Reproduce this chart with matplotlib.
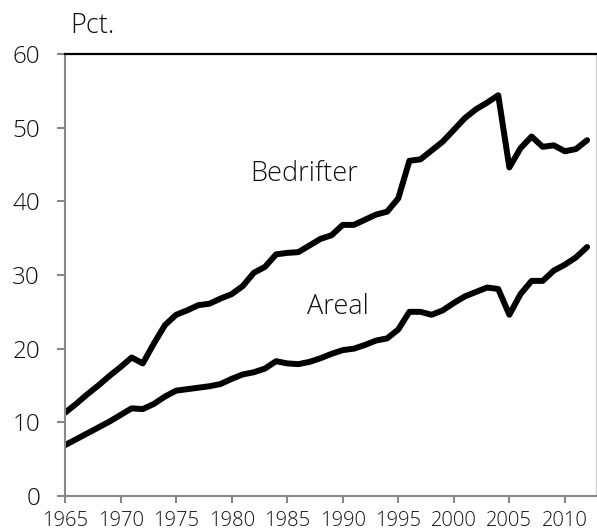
import matplotlib

matplotlib.use("agg")

import matplotlib.pyplot as plt

years = list(range(1965, 2013))

bedrifter = [11.3, 12.5, 13.8, 15.0, 16.3, 17.5, 18.8, 18.0, 20.7, 23.2,
             24.6, 25.2, 25.9, 26.1, 26.8, 27.4, 28.5, 30.3, 31.1, 32.8,
             33.0, 33.1, 34.0, 34.9, 35.4, 36.8, 36.8, 37.5, 38.2, 38.6,
             40.4, 45.5, 45.7, 46.9, 48.1, 49.7, 51.3, 52.5, 53.4, 54.4,
             44.6, 47.2, 48.8, 47.4, 47.6, 46.8, 47.1, 48.3]

areal = [6.9, 7.7, 8.5, 9.3, 10.1, 11.0, 11.9, 11.8, 12.5, 13.5,
         14.3, 14.5, 14.7, 14.9, 15.2, 15.9, 16.5, 16.8, 17.3, 18.3,
         18.0, 17.9, 18.2, 18.7, 19.3, 19.8, 20.0, 20.5, 21.1, 21.4,
         22.6, 25.0, 25.0, 24.6, 25.2, 26.2, 27.1, 27.7, 28.3, 28.1,
         24.6, 27.4, 29.2, 29.2, 30.6, 31.4, 32.4, 33.8]

x_ticks = list(range(1965, 2011, 5))
y_ticks = list(range(0, 61, 10))

plt.rcParams["font.family"] = ["Open Sans", "DejaVu Sans"]
plt.rcParams["font.weight"] = "light"

fig = plt.figure(figsize=(5.97, 5.31), dpi=100)
ax = fig.add_axes((65 / 597, 1 - 496 / 531, 531 / 597, 442 / 531))

ax.plot(years, bedrifter, color="black", lw=4.3, solid_joinstyle="round", solid_capstyle="round")
ax.plot(years, areal, color="black", lw=4.3, solid_joinstyle="round", solid_capstyle="round")

ax.text(1986.5, 43.7, "Bedrifter", fontsize=19.5, ha="center", va="center", color="#111111")
ax.text(1989.6, 25.6, "Areal", fontsize=19.5, ha="center", va="center", color="#111111")

ax.set_xlim(1965, 2012.8)
ax.set_ylim(0, 60)
ax.set_xticks(x_ticks)
ax.set_yticks(y_ticks)

ax.tick_params(axis="y", direction="out", length=6, width=1.5, color="#888888",
               labelsize=17.5, pad=12, labelcolor="#111111")
ax.tick_params(axis="x", direction="out", length=5, width=1.5, color="#888888",
               labelsize=14.5, pad=6, labelcolor="#111111")

ax.spines["left"].set_color("#888888")
ax.spines["left"].set_linewidth(1.5)
ax.spines["bottom"].set_color("#888888")
ax.spines["bottom"].set_linewidth(1.5)
ax.spines["top"].set_color("black")
ax.spines["top"].set_linewidth(1.6)
ax.spines["right"].set_color("#cccccc")
ax.spines["right"].set_linewidth(1.0)

fig.text(70 / 597, 1 - 33 / 531, "Pct.", fontsize=19.5, ha="left", va="baseline", color="#111111")

fig.savefig("out.png", dpi=100)
